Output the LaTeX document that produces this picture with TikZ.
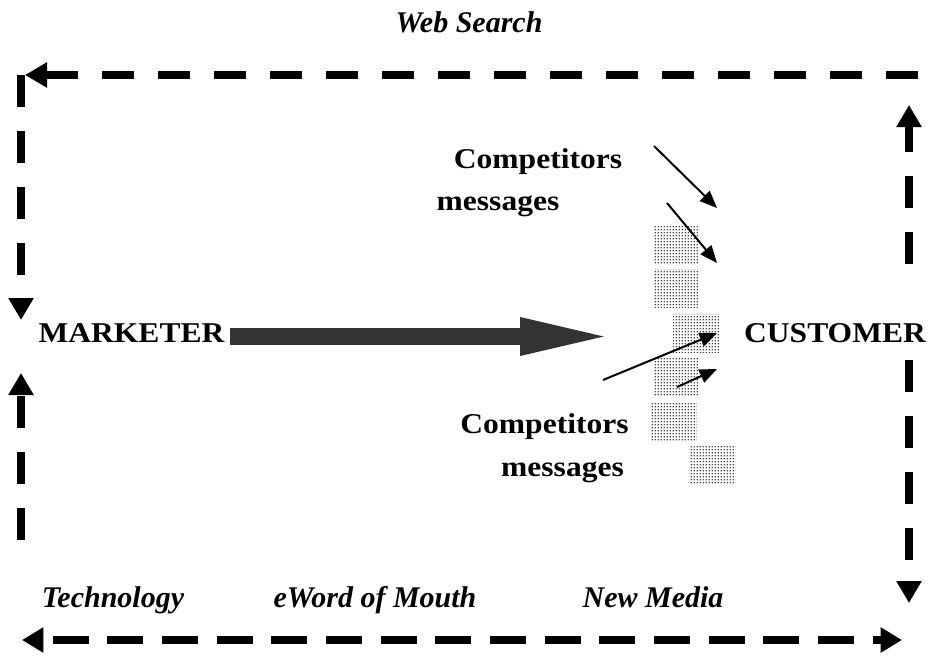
\documentclass[tikz,border=0pt]{standalone}
\usepackage{fontspec}
\setmainfont{Liberation Serif}
\newfontfamily\widefont[FakeStretch=1.1]{Liberation Serif}
\usetikzlibrary{arrows.meta,patterns.meta}
\tikzdeclarepattern{name=fdots, type=uncolored,
  bounding box={(0pt,0pt) and (2.25pt,2.25pt)},
  tile size={(2.25pt,2.25pt)},
  code={\fill (1.125pt,1.125pt) circle (0.7pt);}}
\definecolor{bigarrow}{HTML}{333333}
\begin{document}
\begin{tikzpicture}[x=0.75pt,y=-0.75pt,
  dline/.style={line width=6pt, dash pattern=on 24pt off 18pt, line cap=butt,
    -{Triangle[length=16.5pt,width=18pt]}},
  bline/.style={line width=6.5pt, dash pattern=on 27pt off 14pt, dash phase=33pt, line cap=butt,
    {Triangle[length=16pt,width=18pt]}-{Triangle[length=16pt,width=18pt]}},
  thinarrow/.style={line width=1.5pt, -{Triangle[length=13pt,width=10.5pt]}},
  bold/.style={font=\widefont\bfseries\fontsize{21.5pt}{24pt}\selectfont, anchor=base, inner sep=0pt},
  ital/.style={font=\bfseries\itshape\fontsize{22.5pt}{26pt}\selectfont, anchor=base, inner sep=0pt},
  dotbox/.style={pattern=fdots, pattern color=black, minimum width=34.5pt, minimum height=28.5pt, inner sep=0pt}]
\useasboundingbox (0,0) rectangle (931,657);

% texts
\node[ital] (web) at (469,32) {Web Search};
\node[bold] (marketer) at (131.5,342) {MARKETER};
\node[bold] (customer) at (835,342) {CUSTOMER};
\node[bold] (comp1) at (538,168) {Competitors};
\node[bold] (mess1) at (498,210) {messages};
\node[bold] (comp2) at (544.5,433) {Competitors};
\node[bold] (mess2) at (562.5,476) {messages};
\node[ital] (tech) at (113,607) {Technology};
\node[ital] (ewom) at (375,607) {eWord of Mouth};
\node[ital] (newm) at (653,607) {New Media};

% dotted boxes
\node[dotbox] (b1) at (676,244) {};
\node[dotbox] (b2) at (676,288.5) {};
\node[dotbox] (b3) at (696,333.5) {};
\node[dotbox] (b4) at (676,377) {};
\node[dotbox] (b5) at (674,421.5) {};
\node[dotbox] (b6) at (712.5,465) {};

% big arrow
\coordinate (ga) at (230,336.5);
\coordinate (gb) at (617,336.5);
\draw[bigarrow, line width=12.75pt, -{Triangle[length=72.75pt,width=24.75pt]}] (ga) -- (gb);

% thin arrows
\coordinate (a1s) at (654,146); \coordinate (a1e) at (717,208);
\coordinate (a2s) at (667,203); \coordinate (a2e) at (717,263);
\coordinate (a3s) at (603,380); \coordinate (a3e) at (717,333);
\coordinate (a4s) at (677,387); \coordinate (a4e) at (717,369);
\draw[thinarrow] (a1s) -- (a1e);
\draw[thinarrow] (a2s) -- (a2e);
\draw[thinarrow] (a3s) -- (a3e);
\draw[thinarrow] (a4s) -- (a4e);

% dashed frame
\coordinate (tr) at (918,75);
\coordinate (tl) at (25,75);
\coordinate (lt1) at (21,75);
\coordinate (lt2) at (21,320);
\coordinate (lb1) at (21,540);
\coordinate (lb2) at (21,373);
\coordinate (rt1) at (909,264);
\coordinate (rt2) at (909,105);
\coordinate (rb1) at (909,360);
\coordinate (rb2) at (909,603);
\coordinate (bl) at (22,640);
\coordinate (br) at (902,640);
\draw[dline] (tr) -- (tl);
\draw[dline] (lt1) -- (lt2);
\draw[dline] (lb1) -- (lb2);
\draw[dline] (rt1) -- (rt2);
\draw[dline] (rb1) -- (rb2);
\draw[bline] (bl) -- (br);
\end{tikzpicture}
\end{document}
